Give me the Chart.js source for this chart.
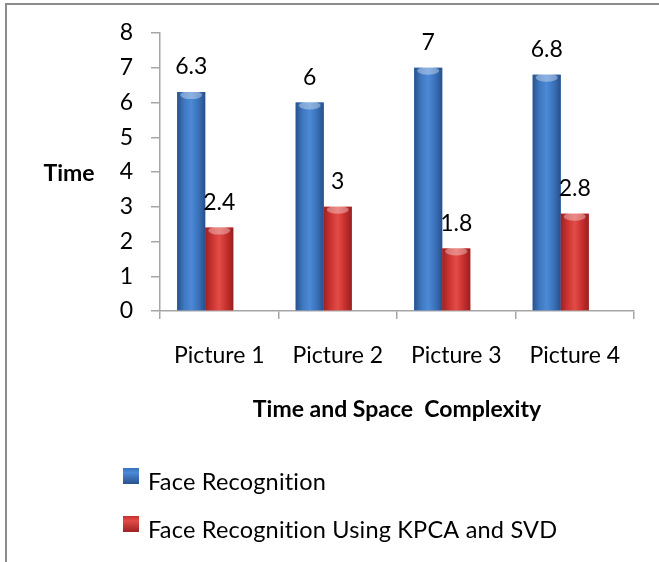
<!DOCTYPE html>
<html>
<head>
<meta charset="UTF-8">
<title>Time and Space Complexity</title>
<style>
	body { margin: 0; overflow: hidden; background: #fff; }
	/* grey frame of the chart, cut off on the right and bottom */
	#frame { position: absolute; left: 5px; top: 3px; width: 720px; height: 620px; border: 2px solid #8c8c8c; }
	#barChart { position: absolute; left: 0; top: 0; }
</style>
</head>
<body>
	<div id="frame"></div>
	<canvas id="barChart" width="659" height="562"></canvas>

	<script src="https://cdn.jsdelivr.net/npm/chart.js"></script>

	<script>
		// chart data
		const categories = ['Picture 1', 'Picture 2', 'Picture 3', 'Picture 4'];
		const faceRecognition = [6.3, 6, 7, 6.8];
		const faceRecognitionKpca = [2.4, 3, 1.8, 2.8];
		const yTicks = [0, 1, 2, 3, 4, 5, 6, 7, 8];

		const seriesNames = ['Face Recognition', 'Face Recognition Using KPCA and SVD'];
		const xTitle = 'Time and Space  Complexity';
		const yTitle = 'Time';

		// cylinder look (dark edge -> light -> dark edge)
		const blueShades = ['#28528c', '#3f78c0', '#4c89d6', '#3a72ba', '#27508a'];
		const redShades = ['#9c2222', '#cc3431', '#e24c47', '#c8302d', '#982020'];

		Chart.defaults.font.family = 'Lato';
		Chart.defaults.color = '#000';

		// draws the shading, value labels, legend and the horizontal y title
		const excelLook = {
			id: 'excelLook',
			afterDatasetsDraw: function(chart) {
				const ctx = chart.ctx;
				chart.data.datasets.forEach(function(ds, i) {
					if (!ds.label) return;	// spacer dataset
					const meta = chart.getDatasetMeta(i);
					meta.data.forEach(function(bar, j) {
						const left = bar.x - bar.width / 2;
						const top = bar.y;
						const h = bar.base - bar.y;
						const g = ctx.createLinearGradient(left, 0, left + bar.width, 0);
						ds.shades.forEach(function(c, k) {
							g.addColorStop(k / (ds.shades.length - 1), c);
						});
						ctx.save();
						ctx.fillStyle = g;
						ctx.fillRect(left, top, bar.width, h);
						// light cap at the top of the cylinder
						ctx.fillStyle = 'rgba(255,255,255,0.35)';
						ctx.beginPath();
						ctx.ellipse(bar.x, top + 3, bar.width / 2 - 3, 4, 0, 0, Math.PI * 2);
						ctx.fill();
						ctx.restore();
					});
				});

				// value labels
				chart.data.datasets.forEach(function(ds, i) {
					if (!ds.label) return;
					const meta = chart.getDatasetMeta(i);
					meta.data.forEach(function(bar, j) {
						ctx.save();
						ctx.font = '23px Lato';
						ctx.fillStyle = '#000';
						ctx.textAlign = 'center';
						ctx.textBaseline = 'middle';
						ctx.fillText(String(ds.data[j]), bar.x, bar.y - 25);
						ctx.restore();
					});
				});
			},
			afterDraw: function(chart) {
				const ctx = chart.ctx;
				const area = chart.chartArea;

				// y title, not rotated
				ctx.save();
				ctx.font = 'bold 23px Lato';
				ctx.fillStyle = '#000';
				ctx.textAlign = 'center';
				ctx.textBaseline = 'middle';
				ctx.fillText(yTitle, area.left - 91, (area.top + area.bottom) / 2 + 2);
				ctx.restore();

				// legend, one item per row under the chart
				let row = 0;
				chart.data.datasets.forEach(function(ds) {
					if (!ds.label) return;
					const y = 482 + row * 48;
					const g = ctx.createLinearGradient(0, y - 14, 0, y + 2);
					g.addColorStop(0, ds.shades[3]);
					g.addColorStop(0.3, ds.shades[2]);
					g.addColorStop(1, ds.shades[0]);
					ctx.save();
					ctx.fillStyle = g;
					ctx.fillRect(123, y - 14, 16, 16);
					ctx.font = '23.5px Lato';
					ctx.letterSpacing = '0.2px';	// keeps "ti" from turning into a ligature
					ctx.fillStyle = '#000';
					ctx.textAlign = 'left';
					ctx.textBaseline = 'middle';
					ctx.fillText(ds.label, 148, y);
					ctx.restore();
					row++;
				});
			}
		};

		const ctx = document.getElementById('barChart').getContext('2d');
		const barChart = new Chart(ctx, {
			type: 'bar',
			data: {
				labels: categories,
				datasets: [
					{
						label: seriesNames[0],
						data: faceRecognition,
						backgroundColor: blueShades[2],
						shades: blueShades
					},
					{
						label: seriesNames[1],
						data: faceRecognitionKpca,
						backgroundColor: redShades[2],
						shades: redShades
					},
					{
						// empty slot: Excel's 3D depth pushes the bar pair left
						label: '',
						data: [],
						backgroundColor: 'rgba(0,0,0,0)'
					}
				]
			},
			plugins: [excelLook],
			options: {
				responsive: false,
				animation: false,
				categoryPercentage: 0.71,
				barPercentage: 1.0,
				layout: {
					padding: { left: 0, right: 25, top: 33, bottom: 131 }
				},
				scales: {
					x: {
						grid: {
							drawOnChartArea: false,
							offset: true,
							tickLength: 8,
							color: '#a6a6a6',
							lineWidth: 1.5
						},
						border: { color: '#a6a6a6', width: 1.5 },
						ticks: {
							padding: 23,
							font: { size: 23 },
							color: '#000'
						},
						title: {
							display: true,
							text: xTitle,
							font: { size: 23, weight: 'bold' },
							color: '#000',
							padding: { top: 0, bottom: 8 }
						},
						afterFit: function(scale) { scale.height = 120; }
					},
					y: {
						min: yTicks[0],
						max: yTicks[yTicks.length - 1],
						grid: {
							drawOnChartArea: false,
							tickLength: 9,
							color: '#a6a6a6',
							lineWidth: 1.5
						},
						border: { color: '#a6a6a6', width: 1.5 },
						ticks: {
							stepSize: 1,
							padding: 18,
							font: { size: 23 },
							color: '#000'
						},
						afterFit: function(scale) { scale.width = 160; }
					}
				},
				plugins: {
					legend: { display: false },
					tooltip: { enabled: false }
				}
			}
		});
	</script>
</body>
</html>
